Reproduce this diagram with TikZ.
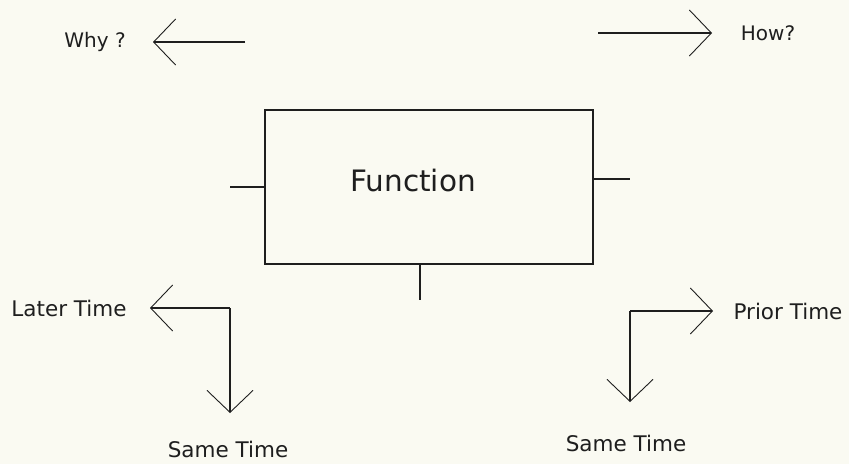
\documentclass[tikz,border=0pt]{standalone}
\usepackage{fontspec}
\setmainfont{DejaVu Sans}
\usetikzlibrary{arrows.meta}

\definecolor{paper}{RGB}{250,250,242}
\definecolor{ink}{RGB}{30,30,30}

\tikzset{
    wire/.style={ink, line width=1.4pt},
    arrowline/.style={wire, -{Straight Barb[length=22pt, width=46pt, line width=0.9pt]}},
    fbox/.style={draw=ink, line width=1.4pt, minimum width=328pt, minimum height=154pt},
    lbl/.style={text=ink, font=\fontsize{21.5}{23}\selectfont, inner sep=0pt},
}

\begin{document}
\begin{tikzpicture}[x=1pt, y=-1pt]
    \fill[paper] (0,0) rectangle (849,464);
    \useasboundingbox (0,0) rectangle (849,464);

    % the function block
    \node[fbox] (func) at (429,187) {};
    \node[text=ink, font=\fontsize{29.5}{31}\selectfont] (ftext) at (413,180) {Function};

    % stubs on the block
    \coordinate (inL) at (230,187);
    \coordinate (outR) at (630,179);
    \coordinate (tm) at (420,300);
    \draw[wire] (inL) -- (func.west);
    \draw[wire] (func.east |- outR) -- (outR);
    \draw[wire] (tm |- func.south) -- (tm);

    % why / how
    \node[lbl, font=\fontsize{20}{22}\selectfont] (why) at (95,42) {Why ?};
    \coordinate (whyS) at (245,42);
    \coordinate (whyT) at (153,42);
    \draw[arrowline] (whyS) -- (whyT);

    \node[lbl, font=\fontsize{20}{22}\selectfont] (how) at (768,33) {How?};
    \coordinate (howS) at (598,33);
    \coordinate (howT) at (712,33);
    \draw[arrowline] (howS) -- (howT);

    % later time / same time
    \node[lbl] (later) at (69,308) {Later Time};
    \coordinate (lc) at (230,308);
    \coordinate (laterT) at (150,308);
    \coordinate (sameLT) at (230,413);
    \draw[arrowline] (lc) -- (laterT);
    \draw[arrowline] (lc) -- (sameLT);
    \node[lbl] (sameL) at (228,449) {Same Time};

    % prior time / same time
    \node[lbl] (prior) at (788,311) {Prior Time};
    \coordinate (rc) at (630,311);
    \coordinate (priorT) at (713,311);
    \coordinate (sameRT) at (630,402);
    \draw[arrowline] (rc) -- (priorT);
    \draw[arrowline] (rc) -- (sameRT);
    \node[lbl] (sameR) at (626,443) {Same Time};
\end{tikzpicture}
\end{document}
